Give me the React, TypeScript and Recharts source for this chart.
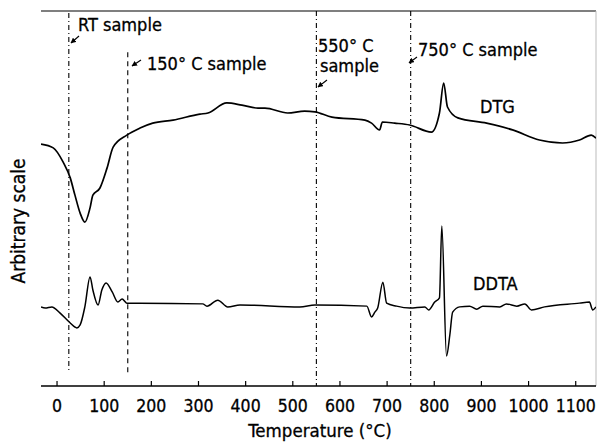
import { LineChart, Line, XAxis, YAxis, ReferenceLine } from 'recharts';

// temperature axis (deg C)
const tempTicks = [0, 100, 200, 300, 400, 500, 600, 700, 800, 900, 1000, 1100];
const tempDomain = [-34, 1143];

// sample temperatures marked with dashed lines
const sampleTemps = [25, 150, 550, 750];

// DTG trace, arbitrary units
const dtgTemp = [-34, -8, 13, 28, 38, 49, 59, 70, 76, 91, 106, 119, 148, 176, 203, 246, 303, 320, 360, 392, 426, 441, 489, 525, 547, 583, 653, 667, 684, 690, 716, 748, 794, 811, 820, 828, 850, 911, 966, 1023, 1072, 1108, 1133, 1143];
const dtgValue = [64.5, 63.5, 59.7, 55.5, 50.9, 46.1, 43.7, 47.5, 50.9, 52.8, 58.1, 63.7, 66.9, 68.8, 70.1, 70.9, 72.5, 72.8, 75.5, 74.9, 74.1, 74.1, 72.8, 73.3, 73.1, 71.7, 70.9, 70.1, 68.3, 70.4, 70.1, 69.6, 67.7, 72.8, 80.8, 74.4, 71.5, 70.1, 68.3, 65.6, 64.8, 65.6, 66.9, 66.1];

// DDTA trace, arbitrary units
const ddtaTemp = [-34, -25, -11, 6, 28, 42, 49, 59, 70, 76, 87, 95, 104, 117, 129, 138, 148, 176, 309, 318, 341, 362, 388, 515, 547, 657, 667, 674, 680, 691, 699, 720, 748, 780, 788, 801, 811, 816, 826, 833, 839, 854, 875, 890, 903, 939, 953, 975, 992, 1006, 1034, 1108, 1129, 1136, 1143];
const ddtaValue = [21.1, 20.8, 21.1, 19.5, 16.8, 15.5, 16.3, 21.1, 29.1, 25.6, 21.6, 25.6, 27.5, 25.1, 22.4, 23.2, 22.1, 22.1, 21.9, 21.3, 22.9, 21.1, 21.6, 21.1, 21.6, 21.3, 18.4, 19.7, 20.8, 27.7, 22.1, 21.3, 20.8, 21.1, 20.3, 22.4, 23.5, 42.7, 8.0, 13.6, 19.7, 21.1, 21.3, 20.5, 21.3, 21.1, 21.9, 21.3, 21.9, 20.3, 21.1, 22.1, 22.4, 20.3, 21.1];

const dtgData = dtgTemp.map((t, i) => ({ t, v: dtgValue[i] }));
const ddtaData = ddtaTemp.map((t, i) => ({ t, v: ddtaValue[i] }));

const font = "'DejaVu Sans Condensed', 'Liberation Sans Narrow', 'DejaVu Sans', sans-serif";

function Arrow({ x1, y1, x2, y2 }: { x1: number; y1: number; x2: number; y2: number }) {
  return <line x1={x1} y1={y1} x2={x2} y2={y2} stroke="#000" strokeWidth={1.1} markerEnd="url(#head)" />;
}

export default function App() {
  return (
    <div style={{ position: 'absolute', left: 0, top: 0, width: 597, height: 443, background: '#fff' }}>
      <LineChart width={597} height={443} margin={{ top: 11, right: 1, bottom: 17, left: 41 }}>
        <XAxis
          type="number"
          dataKey="t"
          domain={tempDomain}
          ticks={tempTicks}
          allowDataOverflow
          height={40}
          tickSize={-5}
          tickMargin={19}
          axisLine={{ stroke: '#000', strokeWidth: 1.3 }}
          tickLine={{ stroke: '#000', strokeWidth: 1.2 }}
          tick={{ fill: '#000', fontSize: 17.5, fontFamily: font, stroke: '#000', strokeWidth: 0.3 }}
        />
        <YAxis
          type="number"
          domain={[0, 100]}
          width={0}
          tick={false}
          tickLine={false}
          axisLine={{ stroke: '#000', strokeWidth: 1.3 }}
        />
        <ReferenceLine y={100} stroke="#000" strokeWidth={1.2} />
        <ReferenceLine x={1143} stroke="#bbb" strokeWidth={1} />
        <ReferenceLine segment={[{ x: sampleTemps[0], y: 99.5 }, { x: sampleTemps[0], y: 3.5 }]} stroke="#000" strokeWidth={1.1} strokeDasharray="5 3 1 3" />
        <ReferenceLine segment={[{ x: sampleTemps[1], y: 89 }, { x: sampleTemps[1], y: 3 }]} stroke="#000" strokeWidth={1.1} strokeDasharray="5 4" />
        <ReferenceLine segment={[{ x: sampleTemps[2], y: 100 }, { x: sampleTemps[2], y: 0 }]} stroke="#000" strokeWidth={1.1} strokeDasharray="5 3 1 3" />
        <ReferenceLine segment={[{ x: sampleTemps[3], y: 100 }, { x: sampleTemps[3], y: 0 }]} stroke="#000" strokeWidth={1.1} strokeDasharray="5 3 1 3" />
        <Line data={dtgData} dataKey="v" type="monotone" stroke="#000" strokeWidth={1.7} dot={false} isAnimationActive={false} />
        <Line data={ddtaData} dataKey="v" type="monotone" stroke="#000" strokeWidth={1.5} dot={false} isAnimationActive={false} />
      </LineChart>
      <svg width={597} height={443} style={{ position: 'absolute', left: 0, top: 0, pointerEvents: 'none' }}>
        <defs>
          <marker id="head" viewBox="0 0 10 10" refX="9" refY="5" markerWidth="5" markerHeight="5" orient="auto">
            <path d="M0,0 L10,5 L0,10 z" fill="#000" />
          </marker>
        </defs>
        <g fontFamily={font} fontSize={18} fill="#000" stroke="#000" strokeWidth={0.3}>
          <text x={78} y={31}>RT sample</text>
          <text x={147} y={70}>150° C sample</text>
          <text x={318} y={52}>550° C</text>
          <text x={320} y={72}>sample</text>
          <text x={418} y={56}>750° C sample</text>
          <text x={480} y={113}>DTG</text>
          <text x={473} y={290}>DDTA</text>
        </g>
        <Arrow x1={79} y1={36} x2={71} y2={43} />
        <Arrow x1={141} y1={60} x2={132} y2={66} />
        <Arrow x1={327} y1={80} x2={318} y2={87} />
        <Arrow x1={417} y1={57} x2={409} y2={63} />
        <text x={320} y={437} textAnchor="middle" fontFamily={font} fontSize={18.5} fill="#000" stroke="#000" strokeWidth={0.3}>Temperature (°C)</text>
        <text transform="translate(25,221) rotate(-90)" textAnchor="middle" fontFamily={font} fontSize={19} fill="#000" stroke="#000" strokeWidth={0.3}>Arbitrary scale</text>
      </svg>
    </div>
  );
}
